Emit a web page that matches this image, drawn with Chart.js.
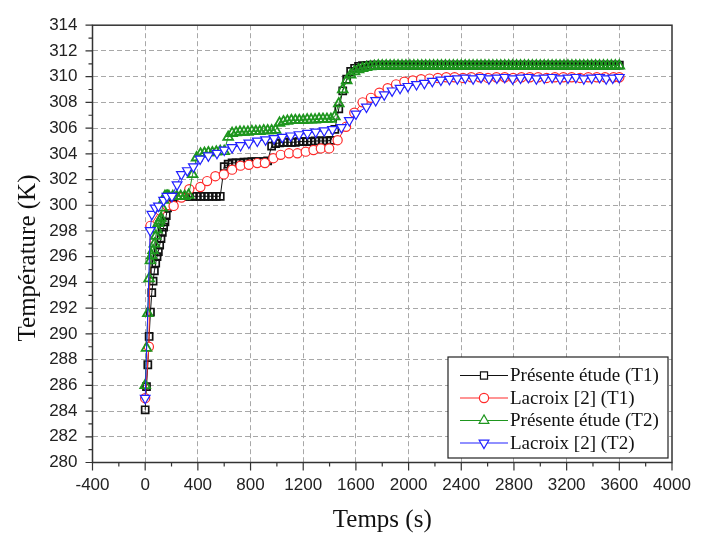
<!DOCTYPE html>
<html>
<head>
<meta charset="utf-8">
<script src="https://cdn.jsdelivr.net/npm/chart.js@4/dist/chart.umd.min.js"></script>
<style>
  body { margin: 0; background: #fff; }
  canvas { display: block; }
</style>
</head>
<body>
<canvas id="myChart" width="707" height="536"></canvas>
<script>
// time grid of the simulation curves (s)
const tSim = [0,10,20,30,40,50,60,70,80,90,100,110,120,130,140,150,160,170,
  180,210,240,270,300,330,360,390,420,450,480,510,540,570,
  600,630,660,690,720,750,780,810,840,870,900,930,
  960,990,1020,1050,1080,1110,1140,1170,1200,1230,1260,1290,1320,1350,1380,1410,
  1440,1470,1500,1530,1560,1590,1620,1650,1680,1710,1740,1770,1800,
  1830,1860,1890,1920,1950,1980,2010,2040,2070,2100,2130,2160,2190,2220,2250,2280,2310,2340,2370,2400,
  2430,2460,2490,2520,2550,2580,2610,2640,2670,2700,2730,2760,2790,2820,2850,2880,2910,2940,2970,3000,
  3030,3060,3090,3120,3150,3180,3210,3240,3270,3300,3330,3360,3390,3420,3450,3480,3510,3540,3570,3600];

// Présente étude (T1)
const simT1 = [284.1,285.9,287.6,289.8,291.7,293.2,294.1,294.9,295.5,296.0,296.4,296.9,297.4,297.9,298.3,298.7,299.2,299.8,
  300.3,300.6,300.7,300.7,300.7,300.7,300.7,300.7,300.7,300.7,300.7,300.7,300.7,300.7,
  303.0,303.2,303.3,303.3,303.3,303.35,303.35,303.4,303.4,303.4,303.4,303.45,
  304.6,304.8,304.85,304.9,304.9,304.9,304.9,304.95,304.95,304.95,304.95,305.0,305.0,305.0,305.0,305.05,
  305.9,307.5,308.9,309.8,310.4,310.65,310.8,310.85,310.85,310.9,310.9,310.9,310.9,
  310.9,310.9,310.9,310.9,310.9,310.9,310.9,310.9,310.9,310.9,310.9,310.9,310.9,310.9,310.9,310.9,310.9,310.9,310.9,310.9,
  310.9,310.9,310.9,310.9,310.9,310.9,310.9,310.9,310.9,310.9,310.9,310.9,310.9,310.9,310.9,310.9,310.9,310.9,310.9,310.9,
  310.9,310.9,310.9,310.9,310.9,310.9,310.9,310.9,310.9,310.9,310.9,310.9,310.9,310.9,310.9,310.9,310.9,310.9,310.9,310.9];

// Présente étude (T2)
const simT2 = [286.0,288.9,291.6,294.3,295.7,296.1,296.5,297.0,297.6,298.1,298.6,298.8,299.0,299.8,300.4,300.7,300.7,300.7,
  300.7,300.7,300.7,300.7,300.7,300.8,302.4,303.7,304.0,304.05,304.1,304.1,304.15,304.2,
  304.2,305.3,305.6,305.65,305.7,305.7,305.7,305.75,305.75,305.75,305.8,305.8,
  305.8,305.85,306.4,306.5,306.55,306.6,306.6,306.6,306.6,306.65,306.65,306.65,306.7,306.7,306.7,306.7,
  306.9,307.9,309.0,309.7,310.15,310.4,310.55,310.65,310.72,310.78,310.82,310.85,310.85,
  310.85,310.85,310.85,310.85,310.85,310.85,310.85,310.85,310.85,310.85,310.85,310.85,310.85,310.85,310.85,310.85,310.85,310.85,310.85,310.85,
  310.85,310.85,310.85,310.85,310.85,310.85,310.85,310.85,310.85,310.85,310.85,310.85,310.85,310.85,310.85,310.85,310.85,310.85,310.85,310.85,
  310.85,310.85,310.85,310.85,310.85,310.85,310.85,310.85,310.85,310.85,310.85,310.85,310.85,310.85,310.85,310.85,310.85,310.85,310.85,310.85];

// Lacroix [2] (T1)
const tLac1 = [0,28,40,113,165,216,275,335,419,470,533,597,660,724,787,851,909,973,
  1029,1092,1156,1219,1278,1334,1397,1461,1525,1588,1651,1714,1778,1841,1905,1968,2032,2095,
  2159,2222,2286,2349,2413,2476,2540,2603,2667,2730,2794,2857,2921,2984,3048,3111,3175,3238,3302,3365,
  3429,3492,3556,3600];
const lacT1 = [285.0,289.0,298.4,299.6,300.0,299.95,300.6,301.25,301.42,301.88,302.26,302.4,302.77,303.08,303.15,303.28,303.28,303.66,
  303.92,304.04,304.04,304.17,304.3,304.42,304.42,305.06,306.1,307.2,308.0,308.35,308.75,309.1,309.4,309.6,309.7,309.8,
  309.85,309.9,309.95,309.95,309.9,309.95,309.95,309.9,309.95,309.95,309.9,309.95,309.95,309.95,309.9,309.95,309.95,309.95,309.9,309.95,
  309.95,309.95,309.95,309.95];

// Lacroix [2] (T2)
const tLac2 = [0,38,51,76,101,140,165,203,242,275,320,366,417,480,545,600,660,724,787,851,
  914,978,1041,1105,1168,1232,1295,1359,1422,1490,1550,1600,1680,1750,1815,1875,1935,1995,2060,2120,
  2180,2245,2310,2370,2430,2490,2550,2610,2670,2730,2790,2850,2910,2970,3030,3090,3150,3210,3270,3330,
  3390,3450,3500,3550,3600];
const lacT2 = [285.0,298.05,299.3,299.8,299.95,300.4,300.7,300.7,301.6,302.4,302.7,303.0,303.6,303.85,304.05,304.3,304.5,304.65,304.85,305.0,
  305.1,305.2,305.3,305.4,305.5,305.6,305.7,305.8,305.9,306.05,306.6,307.1,307.65,308.15,308.6,308.9,309.1,309.25,309.4,309.5,
  309.65,309.75,309.8,309.85,309.9,309.85,309.95,309.85,309.9,309.95,309.85,309.9,309.95,309.85,309.9,309.95,309.85,309.9,309.95,309.85,
  309.9,309.95,309.85,309.9,309.95];

const seriesNames = ['Présente étude (T1)','Lacroix [2] (T1)','Présente étude (T2)','Lacroix [2] (T2)'];

function pts(ts, vs){ return ts.map((t,i)=>({x:t, y:vs[i]})); }

const sansFont = 'Liberation Sans, Arial, sans-serif';
const serifFont = 'Liberation Serif, Times New Roman, serif';

const styles = [
  {color:'#111111', pointStyle:'rect', radius:5, rot:0, fill:'rgba(255,255,255,0)', bw:1.7},
  {color:'#ff2a2a', pointStyle:'circle', radius:4.6, rot:0, fill:'#ffffff', bw:1.2},
  {color:'#1e961e', pointStyle:'triangle', radius:5.6, rot:0, fill:'rgba(255,255,255,0)', bw:1.8},
  {color:'#2222ff', pointStyle:'triangle', radius:5.6, rot:180, fill:'#ffffff', bw:1.2}
];
const rows = [pts(tSim,simT1), pts(tLac1,lacT1), pts(tSim,simT2), pts(tLac2,lacT2)];

const datasets = rows.map((d,i)=>({
  label: seriesNames[i],
  data: d,
  showLine: true,
  borderColor: styles[i].color,
  borderWidth: 1,
  pointStyle: styles[i].pointStyle,
  pointRotation: styles[i].rot,
  pointRadius: styles[i].radius,
  pointBackgroundColor: styles[i].fill,
  pointBorderColor: styles[i].color,
  pointBorderWidth: styles[i].bw,
  order: 4 - i
}));

function marker(ctx, style, x, y, r, rot){
  ctx.beginPath();
  if (style === 'rect') {
    const s = r * Math.SQRT1_2;
    ctx.rect(x - s, y - s, 2*s, 2*s);
  } else if (style === 'circle') {
    ctx.arc(x, y, r, 0, Math.PI*2);
  } else {
    let a = rot * Math.PI / 180;
    ctx.moveTo(x + Math.sin(a)*r, y - Math.cos(a)*r);
    a += Math.PI*2/3;
    ctx.lineTo(x + Math.sin(a)*r, y - Math.cos(a)*r);
    a += Math.PI*2/3;
    ctx.lineTo(x + Math.sin(a)*r, y - Math.cos(a)*r);
    ctx.closePath();
  }
  ctx.fill();
  ctx.stroke();
}

// frame, tick marks, y title and the boxed legend
const framePlugin = {
  id: 'frame',
  afterDraw(chart){
    const {ctx, chartArea:a, scales:{x, y}} = chart;
    ctx.save();
    ctx.strokeStyle = '#333';
    ctx.lineWidth = 1.5;
    ctx.strokeRect(a.left, a.top, a.right - a.left, a.bottom - a.top);
    ctx.lineWidth = 1.2;
    ctx.beginPath();
    for (let v = x.min; v <= x.max; v += 200) {
      const px = x.getPixelForValue(v);
      const len = (v % 400 === 0) ? 8 : 4;
      ctx.moveTo(px, a.bottom); ctx.lineTo(px, a.bottom + len);
    }
    for (let v = y.min; v <= y.max; v += 1) {
      const py = y.getPixelForValue(v);
      const len = (v % 2 === 0) ? 7 : 4;
      ctx.moveTo(a.left, py); ctx.lineTo(a.left - len, py);
    }
    ctx.stroke();

    // y axis title
    ctx.save();
    ctx.translate(28, 258);
    ctx.rotate(-Math.PI/2);
    ctx.font = '25px ' + serifFont;
    ctx.fillStyle = '#111';
    ctx.textAlign = 'center';
    ctx.textBaseline = 'middle';
    ctx.fillText('Température (K)', 0, 0);
    ctx.restore();

    // legend box
    const bx = 448, by = 357, bw = 220, bh = 101;
    ctx.fillStyle = '#fff';
    ctx.fillRect(bx, by, bw, bh);
    ctx.strokeStyle = '#222';
    ctx.lineWidth = 1.2;
    ctx.strokeRect(bx, by, bw, bh);
    ctx.font = '19px ' + serifFont;
    ctx.textBaseline = 'middle';
    chart.data.datasets.forEach((ds, i) => {
      const ry = by + 18.5 + i*22.5;
      ctx.strokeStyle = ds.borderColor;
      ctx.lineWidth = 1.2;
      ctx.beginPath();
      ctx.moveTo(bx + 12, ry); ctx.lineTo(bx + 60, ry);
      ctx.stroke();
      ctx.fillStyle = '#fff';
      marker(ctx, ds.pointStyle, bx + 36, ry, ds.pointRadius, ds.pointRotation);
      ctx.fillStyle = '#111';
      ctx.fillText(ds.label, bx + 62, ry + 1);
    });
    ctx.restore();
  }
};

const gridColor = (ctx) => {
  const sc = ctx.scale;
  const v = ctx.tick ? ctx.tick.value : null;
  if (v === sc.min || v === sc.max) return 'rgba(0,0,0,0)';
  return '#a8a8a8';
};

new Chart(document.getElementById('myChart').getContext('2d'), {
  type: 'scatter',
  data: { datasets: datasets },
  options: {
    responsive: false,
    animation: false,
    layout: { padding: { left: 0, top: 16, right: 35, bottom: 0 } },
    plugins: { legend: { display: false }, tooltip: { enabled: false } },
    scales: {
      x: {
        type: 'linear', min: -400, max: 4000,
        ticks: { stepSize: 400, color: '#222', font: { family: sansFont, size: 17 }, padding: 13,
                 callback: (v) => String(v) },
        grid: { color: gridColor, lineWidth: 1, drawTicks: false },
        border: { display: false, dash: [5, 3] },
        title: { display: true, text: 'Temps (s)', color: '#111', font: { family: serifFont, size: 25 }, padding: { top: 0, bottom: 1 } },
        afterFit: (s) => { s.height = 73.5; }
      },
      y: {
        type: 'linear', min: 280, max: 314,
        ticks: { stepSize: 2, color: '#222', font: { family: sansFont, size: 17 }, padding: 15,
                 callback: (v) => String(v) },
        grid: { color: gridColor, lineWidth: 1, drawTicks: false },
        border: { display: false, dash: [5, 3] },
        afterFit: (s) => { s.width = 92.5; }
      }
    }
  },
  plugins: [framePlugin]
});
</script>
</body>
</html>
